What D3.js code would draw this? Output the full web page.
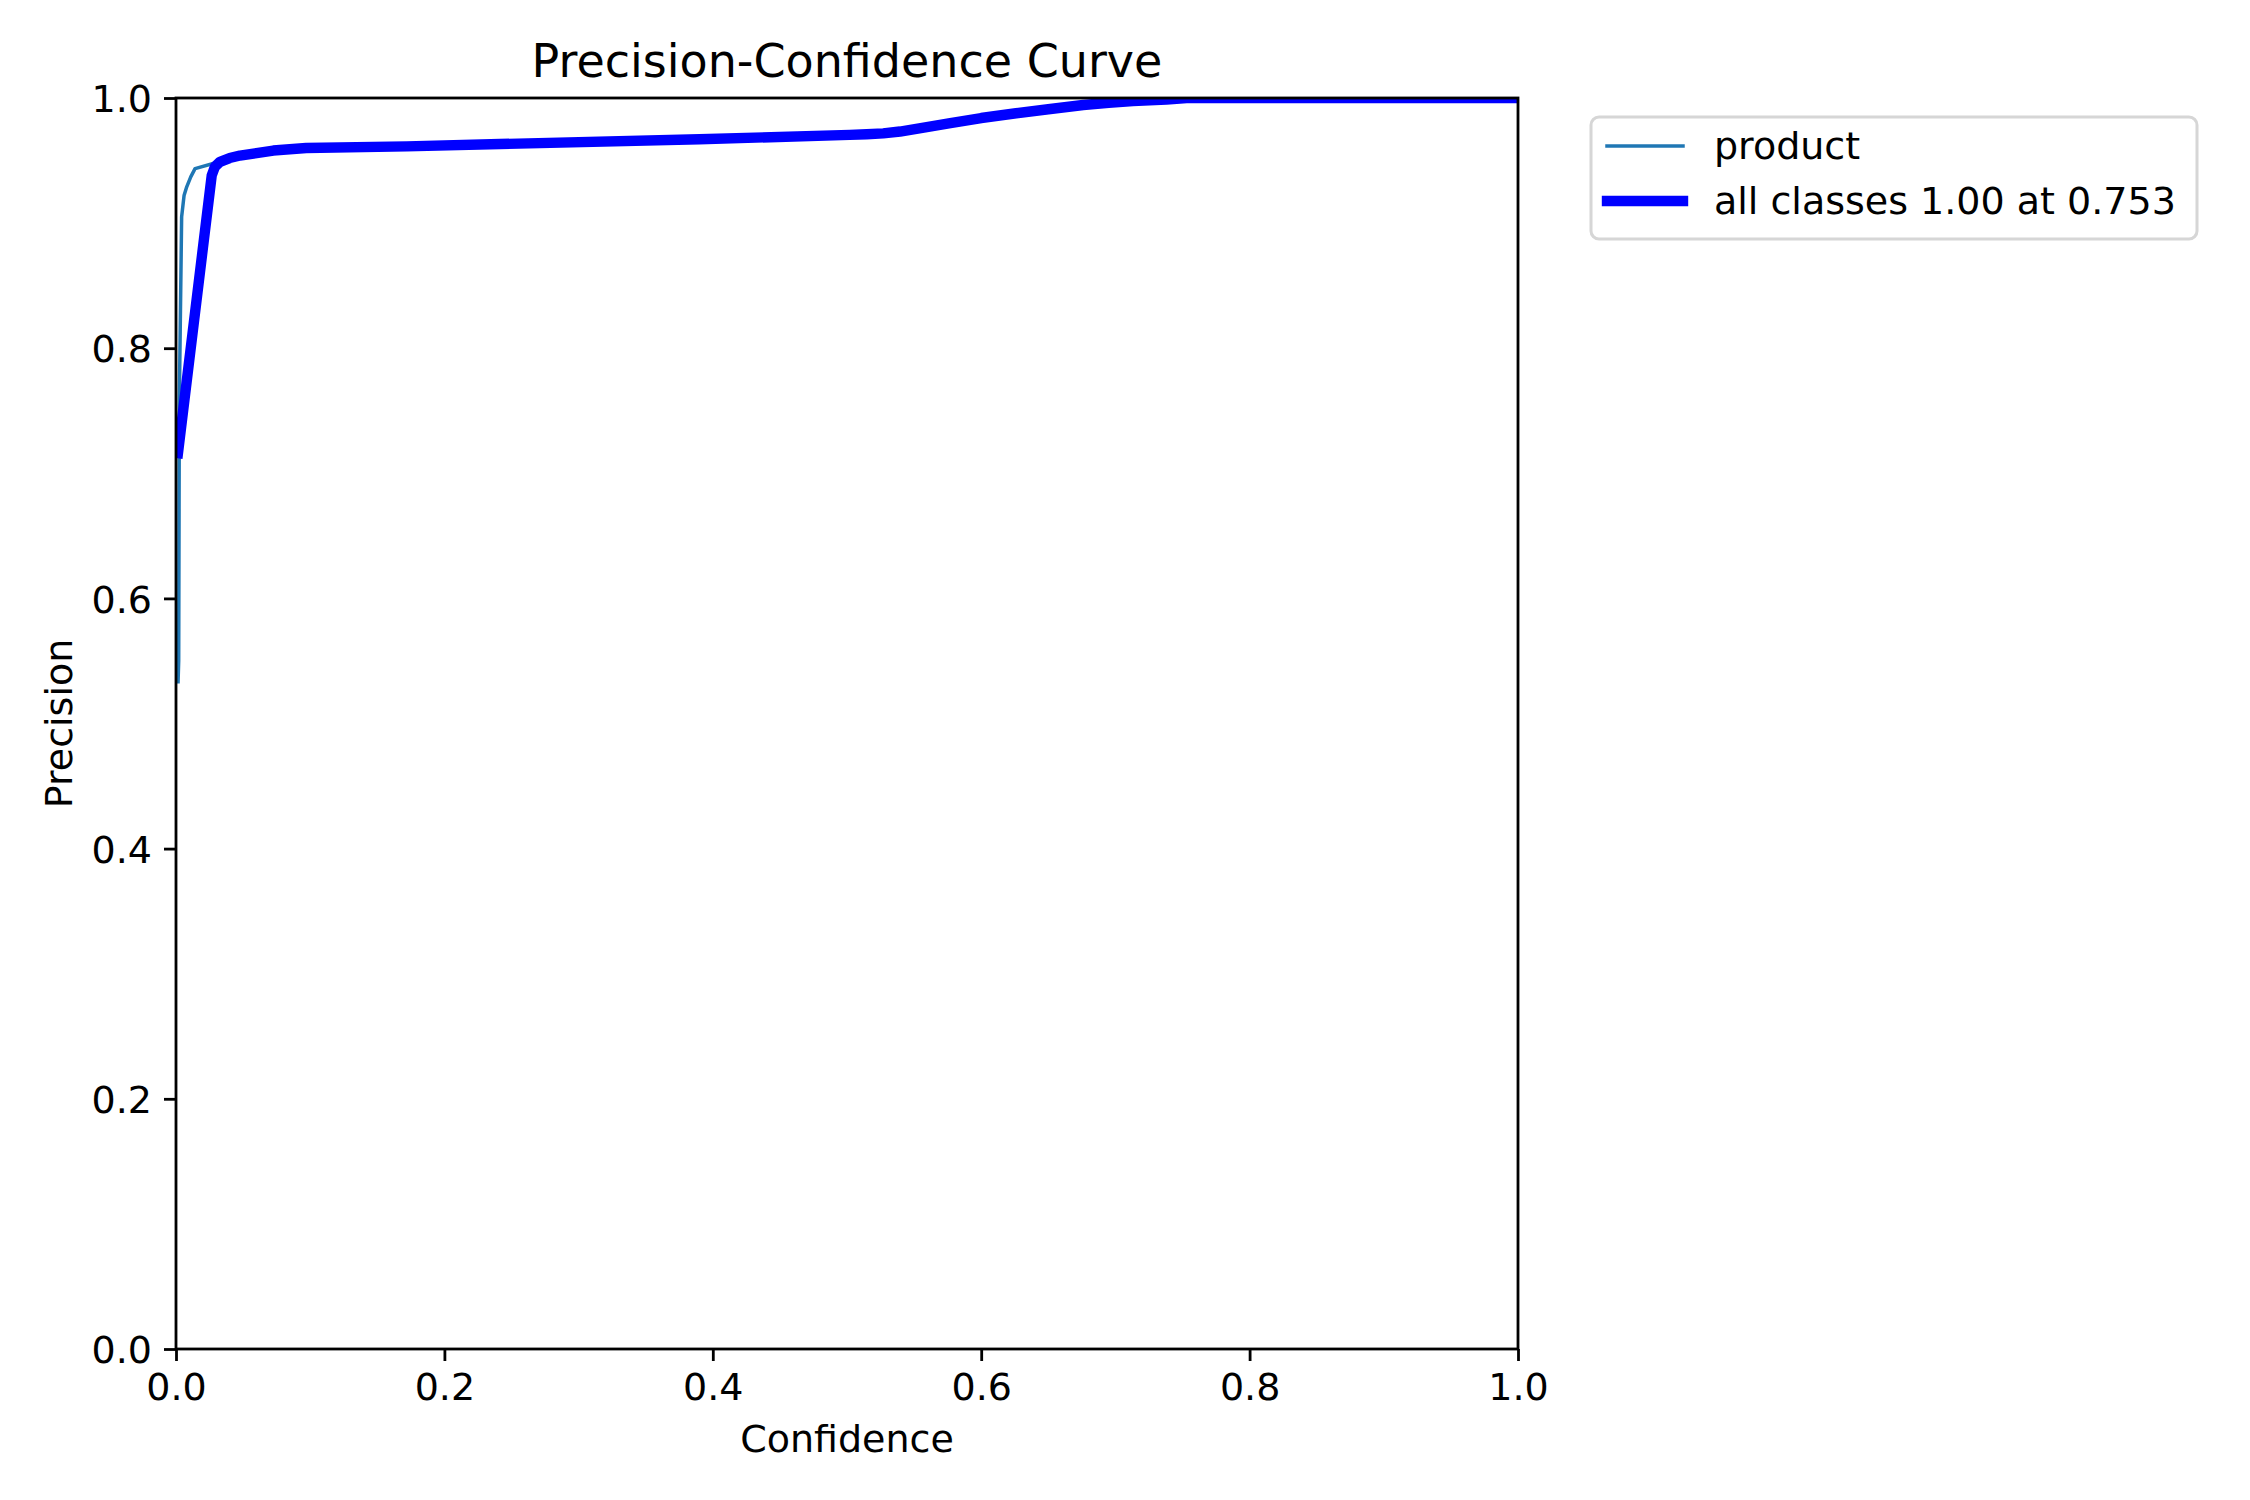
<!DOCTYPE html>
<meta charset="utf-8">
<title>Precision-Confidence Curve</title>
<style>
  body { margin: 0; background: #fff; }
  text { font-family: "DejaVu Sans", sans-serif; fill: #000; }
</style>
<svg width="2250" height="1500"></svg>
<script src="https://d3js.org/d3.v7.min.js"></script>
<script>

// values
var productConf = [0.0015, 0.002, 0.0025, 0.0042, 0.006, 0.008, 0.011, 0.0142, 0.029, 0.04, 0.06, 0.1, 0.2, 0.4, 0.52, 0.55, 0.6, 0.65, 0.7, 0.753, 1.0];
var productPrec = [0.532, 0.55, 0.76, 0.905, 0.922, 0.929, 0.937, 0.9435, 0.948, 0.952, 0.956, 0.9595, 0.962, 0.967, 0.971, 0.974, 0.984, 0.991, 0.997, 1.0, 1.0];

var allConf = [0.001, 0.0266, 0.029, 0.0328, 0.04, 0.0477, 0.0725, 0.097, 0.172, 0.2414, 0.39, 0.502, 0.5147, 0.527, 0.5395, 0.555, 0.577, 0.6, 0.626, 0.65, 0.676, 0.695, 0.713, 0.738, 0.753, 1.0];
var allPrec = [0.712, 0.938, 0.945, 0.949, 0.952, 0.954, 0.958, 0.960, 0.9613, 0.9632, 0.967, 0.9705, 0.971, 0.9717, 0.9732, 0.976, 0.980, 0.984, 0.9878, 0.991, 0.9944, 0.9962, 0.9976, 0.9987, 1.0, 1.0];

var xTicks = [0, 0.2, 0.4, 0.6, 0.8, 1.0];
var yTicks = [0, 0.2, 0.4, 0.6, 0.8, 1.0];

var legendLabels = ["product", "all classes 1.00 at 0.753"];

var svg = d3.select("svg");
// note: "top" is taken by window.top, so prefix everything
var plotLeft = 176, plotRight = 1518, plotTop = 98, plotBottom = 1349;

var x = d3.scaleLinear().domain([0, 1]).range([plotLeft, plotRight]);
var y = d3.scaleLinear().domain([0, 1]).range([plotBottom, plotTop]);

svg.append("rect").attr("width", 2250).attr("height", 1500).attr("fill", "#fff");

svg.append("clipPath").attr("id", "plotclip")
  .append("rect")
  .attr("x", plotLeft).attr("y", plotTop)
  .attr("width", plotRight - plotLeft).attr("height", plotBottom - plotTop);

var line = d3.line()
  .x(function(d) { return x(d[0]); })
  .y(function(d) { return y(d[1]); });

var product = d3.zip(productConf, productPrec);
var all = d3.zip(allConf, allPrec);

var plot = svg.append("g").attr("clip-path", "url(#plotclip)");

plot.append("path")
  .datum(product)
  .attr("d", line)
  .attr("fill", "none")
  .attr("stroke", "#1f77b4")
  .attr("stroke-width", 3.5)
  .attr("stroke-linejoin", "round");

plot.append("path")
  .datum(all)
  .attr("d", line)
  .attr("fill", "none")
  .attr("stroke", "blue")
  .attr("stroke-width", 10.4)
  .attr("stroke-linejoin", "round");

// axes
var xAxis = svg.append("g")
  .attr("transform", "translate(0," + plotBottom + ")")
  .call(d3.axisBottom(x).tickValues(xTicks).tickFormat(d3.format(".1f"))
    .tickSize(12).tickSizeOuter(0).tickPadding(12));

var yAxis = svg.append("g")
  .attr("transform", "translate(" + plotLeft + ",0)")
  .call(d3.axisLeft(y).tickValues(yTicks).tickFormat(d3.format(".1f"))
    .tickSize(12).tickSizeOuter(0).tickPadding(12));

[xAxis, yAxis].forEach(function(a) {
  a.select(".domain").remove();
  a.selectAll("line").attr("stroke", "#000").attr("stroke-width", 2.8);
  a.selectAll("text")
    .attr("font-family", "DejaVu Sans")
    .attr("font-size", 38)
    .attr("fill", "#000");
});
yAxis.selectAll("text").attr("dy", "0.36em");

svg.append("rect")
  .attr("x", plotLeft).attr("y", plotTop)
  .attr("width", plotRight - plotLeft).attr("height", plotBottom - plotTop)
  .attr("fill", "none")
  .attr("stroke", "#000")
  .attr("stroke-width", 2.8);

// labels
svg.append("text")
  .attr("x", (plotLeft + plotRight) / 2).attr("y", 77)
  .attr("text-anchor", "middle")
  .attr("font-size", 46)
  .text("Precision-Confidence Curve");

svg.append("text")
  .attr("x", (plotLeft + plotRight) / 2).attr("y", 1452)
  .attr("text-anchor", "middle")
  .attr("font-size", 38)
  .text("Confidence");

svg.append("text")
  .attr("transform", "translate(72," + (plotTop + plotBottom) / 2 + ") rotate(-90)")
  .attr("text-anchor", "middle")
  .attr("font-size", 38)
  .text("Precision");

// legend
var legend = svg.append("g");
legend.append("rect")
  .attr("x", 1591).attr("y", 117)
  .attr("width", 606).attr("height", 122)
  .attr("rx", 8)
  .attr("fill", "#fff").attr("fill-opacity", 0.8)
  .attr("stroke", "#d6d6d6")
  .attr("stroke-width", 3);

var legendColors = ["#1f77b4", "blue"];
var legendWidths = [3.5, 10.4];
var rowY = d3.scaleOrdinal().domain(legendLabels).range([146, 201]);

legendLabels.forEach(function(lab, i) {
  legend.append("line")
    .attr("x1", 1607).attr("x2", 1683)
    .attr("y1", rowY(lab)).attr("y2", rowY(lab))
    .attr("stroke", legendColors[i])
    .attr("stroke-width", legendWidths[i])
    .attr("stroke-linecap", "square");
  legend.append("text")
    .attr("x", 1714).attr("y", rowY(lab) + 13)
    .attr("font-size", 38)
    .text(lab);
});

</script>
